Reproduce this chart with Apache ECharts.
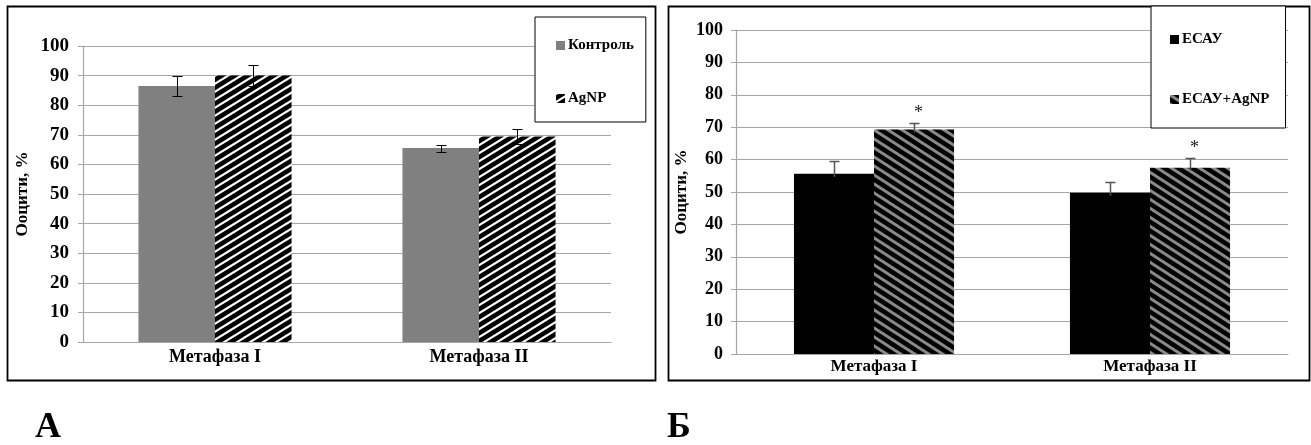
<!DOCTYPE html>
<html><head><meta charset="utf-8">
<script src="https://cdn.jsdelivr.net/npm/echarts@6/dist/echarts.min.js"></script>
<style>html,body{margin:0;padding:0;background:#fff}#c{width:1311px;height:445px}</style>
</head><body><div id="c"></div><script>
// ---- data ----
const categories = ['Метафаза I', 'Метафаза II'];
const controlVals = [86.5, 65.5];
const controlErr  = [3.5, 1.2];
const agnpVals    = [90.0, 69.4];
const agnpErr     = [3.6, 2.6];
const esauVals    = [55.6, 49.8];
const esauErr     = [4.1, 3.4];
const esauAgVals  = [69.3, 57.5];
const esauAgErr   = [2.1, 2.9];
const esauAgMarks = ['*', '*'];
const yMin = 0, yMax = 100, yStep = 10;

const FONT = "'Liberation Serif','Times New Roman',serif";

function makePattern(w, h, bg, fg, lw, dir) {
  const cv = document.createElement('canvas');
  cv.width = w; cv.height = h;
  const ctx = cv.getContext('2d');
  ctx.fillStyle = bg; ctx.fillRect(0, 0, w, h);
  ctx.strokeStyle = fg; ctx.lineWidth = lw;
  for (let k = -1; k <= 1; k++) {
    ctx.beginPath();
    if (dir === '/') { ctx.moveTo(-w + k * w, 2 * h); ctx.lineTo(2 * w + k * w, -h); }
    else { ctx.moveTo(-w + k * w, -h); ctx.lineTo(2 * w + k * w, 2 * h); }
    ctx.stroke();
  }
  return { image: cv, repeat: 'repeat' };
}
const hatchA = makePattern(13, 8, '#000', '#fff', 2.2, '/');
const hatchB = makePattern(14, 9, '#000', '#8a8a8a', 3, '\\');

const GAP = 0.42;
function errSeries(xi, vals, errs, sIdx, nS, both, color, lw, marks) {
  return {
    type: 'custom', xAxisIndex: xi, yAxisIndex: xi, z: 10, silent: true,
    data: vals.map((v, i) => [i, v, errs[i]]),
    renderItem(params, api) {
      const i = api.value(0), v = api.value(1), e = api.value(2);
      const band = api.size([1, 0])[0];
      const bw = band * (1 - GAP) / nS;
      const c = api.coord([i, v]);
      const x = Math.round(c[0] - band * (1 - GAP) / 2 + bw * (sIdx + 0.5)) + 0.5;
      const top = Math.round(api.coord([i, v + e])[1]) + 0.5;
      const bot = both ? Math.round(api.coord([i, v - e])[1]) + 0.5 : c[1] + 3;
      const cap = 5;
      const st = { stroke: color, lineWidth: lw };
      const ch = [
        { type: 'line', shape: { x1: x, y1: top, x2: x, y2: bot }, style: st },
        { type: 'line', shape: { x1: x - cap, y1: top, x2: x + cap, y2: top }, style: st }
      ];
      if (both) ch.push({ type: 'line', shape: { x1: x - cap, y1: bot, x2: x + cap, y2: bot }, style: st });
      if (marks && marks[params.dataIndex]) {
        ch.push({ type: 'text', style: { text: marks[params.dataIndex], x: x + 4, y: top - 1,
          fill: '#222', font: "18px " + FONT, align: 'center', verticalAlign: 'bottom' } });
      }
      return { type: 'group', children: ch };
    }
  };
}

const axisLabelY = (size, margin) => ({ fontFamily: FONT, fontWeight: 'bold', fontSize: size, color: '#000', margin });
const gridLine = { show: true, lineStyle: { color: '#a6a6a6', width: 1.2 } };
const nameStyle = { fontFamily: FONT, fontWeight: 'bold', fontSize: 17, color: '#000' };

const option = {
  animation: false,
  backgroundColor: '#fff',
  grid: [
    { left: 83, top: 46, width: 528, height: 296 },
    { left: 736, top: 30, width: 552, height: 324 }
  ],
  xAxis: [
    { type: 'category', gridIndex: 0, data: categories,
      axisLine: { lineStyle: { color: '#a6a6a6', width: 1.2 } }, axisTick: { show: false },
      axisLabel: { fontFamily: FONT, fontWeight: 'bold', fontSize: 18, color: '#000', margin: 6 } },
    { type: 'category', gridIndex: 1, data: categories,
      axisLine: { lineStyle: { color: '#a6a6a6', width: 1.2 } }, axisTick: { show: false },
      axisLabel: { fontFamily: FONT, fontWeight: 'bold', fontSize: 17, color: '#000', margin: 4 } }
  ],
  yAxis: [
    { type: 'value', gridIndex: 0, min: yMin, max: yMax, interval: yStep,
      name: 'Ооцити, %', nameLocation: 'middle', nameGap: 52, nameRotate: 90,
      nameTextStyle: nameStyle,
      axisLine: { show: true, lineStyle: { color: '#a6a6a6', width: 1.2 } },
      axisTick: { show: true, length: 5, lineStyle: { color: '#a6a6a6' } },
      splitLine: gridLine, axisLabel: axisLabelY(19, 14) },
    { type: 'value', gridIndex: 1, min: yMin, max: yMax, interval: yStep,
      name: 'Ооцити, %', nameLocation: 'middle', nameGap: 46, nameRotate: 90,
      nameTextStyle: nameStyle,
      axisLine: { show: true, lineStyle: { color: '#a6a6a6', width: 1.2 } },
      axisTick: { show: true, length: 5, lineStyle: { color: '#a6a6a6' } },
      splitLine: gridLine, axisLabel: axisLabelY(18, 13) }
  ],
  legend: [
    { data: ['Контроль', 'AgNP'], orient: 'vertical', left: 535, top: 17,
      backgroundColor: '#fff', borderColor: '#000', borderWidth: 1,
      padding: [21, 12, 16, 21], itemGap: 38, itemWidth: 9, itemHeight: 9,
      textStyle: { fontFamily: FONT, fontWeight: 'bold', fontSize: 15, color: '#000', padding: [0, 0, 0, -2] },
      icon: 'rect' },
    { data: ['ЕСАУ', 'ЕСАУ+AgNP'], orient: 'vertical', left: 1151, top: 6,
      backgroundColor: '#fff', borderColor: '#000', borderWidth: 1,
      padding: [26, 16, 21, 19], itemGap: 45, itemWidth: 9, itemHeight: 9,
      textStyle: { fontFamily: FONT, fontWeight: 'bold', fontSize: 15, color: '#000', padding: [0, 0, 0, -2] },
      icon: 'rect' }
  ],
  series: [
    { name: 'Контроль', type: 'bar', xAxisIndex: 0, yAxisIndex: 0, data: controlVals,
      barGap: '0%', barCategoryGap: '42%', itemStyle: { color: '#808080' } },
    { name: 'AgNP', type: 'bar', xAxisIndex: 0, yAxisIndex: 0, data: agnpVals,
      barGap: '0%', barCategoryGap: '42%', itemStyle: { color: hatchA } },
    { name: 'ЕСАУ', type: 'bar', xAxisIndex: 1, yAxisIndex: 1, data: esauVals,
      barGap: '0%', barCategoryGap: '42%', itemStyle: { color: '#000' } },
    { name: 'ЕСАУ+AgNP', type: 'bar', xAxisIndex: 1, yAxisIndex: 1, data: esauAgVals,
      barGap: '0%', barCategoryGap: '42%', itemStyle: { color: hatchB } },
    errSeries(0, controlVals, controlErr, 0, 2, true, '#000', 1),
    errSeries(0, agnpVals, agnpErr, 1, 2, true, '#000', 1),
    errSeries(1, esauVals, esauErr, 0, 2, false, '#555', 1.5),
    errSeries(1, esauAgVals, esauAgErr, 1, 2, false, '#555', 1.5, esauAgMarks)
  ],
  graphic: [
    { type: 'rect', shape: { x: 7.5, y: 6.5, width: 648, height: 374 }, style: { fill: null, stroke: '#000', lineWidth: 1.8 }, z: -1 },
    { type: 'rect', shape: { x: 668.5, y: 6.5, width: 641, height: 374 }, style: { fill: null, stroke: '#000', lineWidth: 1.8 }, z: -1 },
    { type: 'text', left: 35, top: 410, style: { text: 'А', font: "bold 36px " + FONT, fill: '#000' } },
    { type: 'text', left: 667, top: 410, style: { text: 'Б', font: "bold 36px " + FONT, fill: '#000' } }
  ]
};
const chart = echarts.init(document.getElementById('c'), null, { renderer: 'canvas' });
chart.setOption(option);
</script></body></html>
